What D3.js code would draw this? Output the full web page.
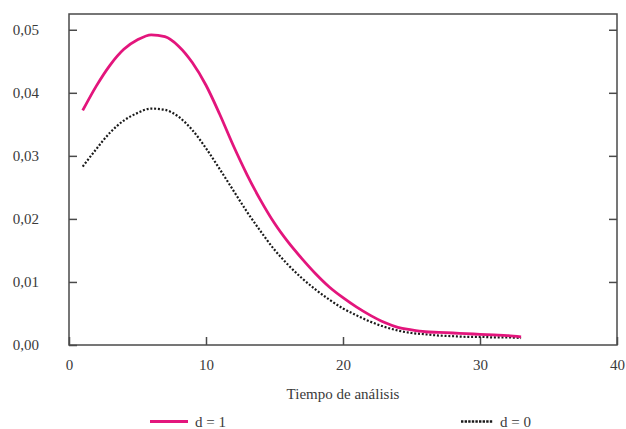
<!DOCTYPE html>
<html>
<head>
<meta charset="utf-8">
<script src="https://cdn.jsdelivr.net/npm/d3@7"></script>
<style>
  body { margin: 0; background: #fff; }
  svg text { font-family: "Liberation Serif", "Times New Roman", serif; fill: #3a3a3a; }
</style>
</head>
<body>
<svg id="chart" width="626" height="429"></svg>
<script>
// analysis time
var tiempo = [1, 2, 3, 4, 5, 6, 7, 8, 9, 10, 11, 12, 13, 14, 15, 16, 17, 18, 19, 20,
  21, 22, 23, 24, 25, 26, 27, 28, 29, 30, 31, 32, 33]

// d = 1 (pink, solid)
var serieD1 = [0.0372, 0.0411, 0.0444, 0.0469, 0.0484, 0.0492, 0.0489, 0.0474, 0.0448, 0.0412,
  0.0366, 0.0316, 0.0270, 0.0229, 0.0193, 0.0163, 0.0137, 0.0113, 0.0092, 0.0075,
  0.0060, 0.0047, 0.0036, 0.0028, 0.0024, 0.0021, 0.0020, 0.0019, 0.0018, 0.0017,
  0.0016, 0.0015, 0.0013]

// d = 0 (black, dotted)
var serieD0 = [0.0283, 0.0311, 0.0337, 0.0356, 0.0368, 0.0375, 0.0373, 0.0362, 0.0341, 0.0312,
  0.0279, 0.0245, 0.0211, 0.0180, 0.0151, 0.0127, 0.0106, 0.0088, 0.0072, 0.0058,
  0.0047, 0.0037, 0.0029, 0.0023, 0.0019, 0.0017, 0.0015, 0.0014, 0.0013, 0.0013,
  0.0012, 0.0012, 0.0011]

var xTicks = [0, 10, 20, 30, 40]
var yTicks = [0, 0.01, 0.02, 0.03, 0.04, 0.05]
var xTitle = 'Tiempo de análisis'
var legendLabels = ['d = 1', 'd = 0']

// plot box (pixels)
var boxL = 69, boxR = 617, boxT = 14, boxB = 345
var pink = '#e3157c'
var frameColor = '#4a4a4a'

var svg = d3.select('#chart')

var x = d3.scaleLinear().domain([0, 40]).range([boxL, boxR])
var y = d3.scaleLinear().domain([0, 0.0525]).range([boxB, boxT])

var comma = d3.formatLocale({ decimal: ',', thousands: '.', grouping: [3], currency: ['', ''] })
var fmtY = comma.format('.2f')

// frame
svg.append('rect')
  .attr('x', boxL).attr('y', boxT)
  .attr('width', boxR - boxL).attr('height', boxB - boxT)
  .attr('fill', 'none').attr('stroke', frameColor).attr('stroke-width', 1.5)

function styleAxis (g) {
  g.select('.domain').remove()
  g.selectAll('.tick line').attr('stroke', frameColor).attr('stroke-width', 1.5)
  g.selectAll('.tick text').style('font-size', '15px').attr('fill', '#444')
}

svg.append('g')
  .attr('transform', 'translate(' + boxL + ',0)')
  .call(d3.axisLeft(y).tickValues(yTicks).tickFormat(fmtY).tickSizeInner(-8).tickSizeOuter(0).tickPadding(30))
  .call(styleAxis)

svg.append('g')
  .attr('transform', 'translate(' + boxR + ',0)')
  .call(d3.axisRight(y).tickValues(yTicks.slice(1)).tickFormat('').tickSizeInner(-8).tickSizeOuter(0))
  .call(styleAxis)

svg.append('g')
  .attr('transform', 'translate(0,' + boxB + ')')
  .call(d3.axisBottom(x).tickValues(xTicks).tickFormat(d3.format('d')).tickSizeInner(-8).tickSizeOuter(0).tickPadding(14))
  .call(styleAxis)

svg.append('text')
  .attr('x', (boxL + boxR) / 2).attr('y', 399)
  .attr('text-anchor', 'middle')
  .style('font-size', '15px')
  .text(xTitle)

var line = d3.line()
  .x(function (d) { return x(d[0]) })
  .y(function (d) { return y(d[1]) })
  .curve(d3.curveMonotoneX)

svg.append('path')
  .datum(d3.zip(tiempo, serieD0))
  .attr('d', line)
  .attr('fill', 'none')
  .attr('stroke', '#1a1a1a')
  .attr('stroke-width', 2.2)
  .attr('stroke-dasharray', '2,1.8')

svg.append('path')
  .datum(d3.zip(tiempo, serieD1))
  .attr('d', line)
  .attr('fill', 'none')
  .attr('stroke', pink)
  .attr('stroke-width', 2.8)

// legend
var legend = svg.append('g')
var items = [
  { label: legendLabels[0], x0: 150, x1: 188, color: pink, dash: null, w: 3.2 },
  { label: legendLabels[1], x0: 461, x1: 493, color: '#1a1a1a', dash: '2.4,1.2', w: 2.4 }
]
items.forEach(function (it) {
  legend.append('line')
    .attr('x1', it.x0).attr('x2', it.x1)
    .attr('y1', 421.5).attr('y2', 421.5)
    .attr('stroke', it.color).attr('stroke-width', it.w)
    .attr('stroke-dasharray', it.dash)
  legend.append('text')
    .attr('x', it.x1 + 7).attr('y', 426.5)
    .style('font-size', '15px')
    .text(it.label)
})
</script>
</body>
</html>
